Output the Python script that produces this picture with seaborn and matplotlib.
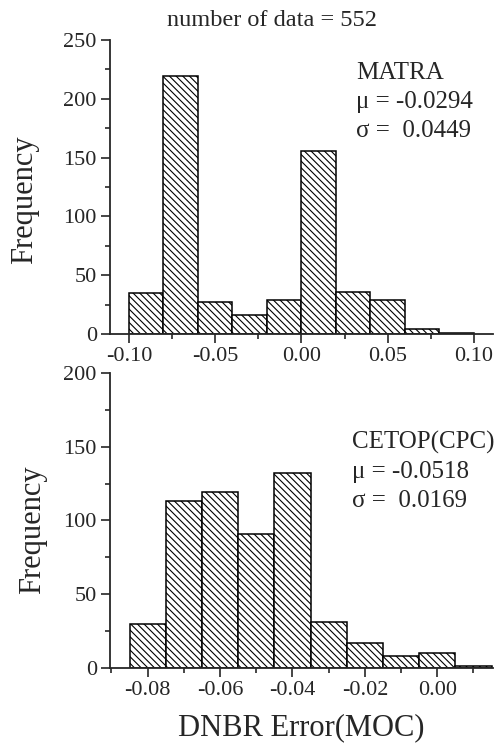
import numpy as np
import pandas as pd
import seaborn as sns
import matplotlib
matplotlib.use("Agg")
import matplotlib.pyplot as plt
from matplotlib.ticker import MultipleLocator, FormatStrFormatter

# histogram counts
matra_edges = [-0.10, -0.08, -0.06, -0.04, -0.02, 0.00, 0.02, 0.04, 0.06, 0.08, 0.10]
matra_counts = [35, 219, 27, 16, 29, 156, 36, 29, 4, 1]

cetop_edges = [-0.085, -0.075, -0.065, -0.055, -0.045, -0.035, -0.025, -0.015, -0.005, 0.005, 0.015]
cetop_counts = [30, 113, 119, 91, 132, 31, 17, 8, 10, 1]

matra_text = "MATRA\nμ = -0.0294\nσ =  0.0449"
cetop_text = "CETOP(CPC)\nμ = -0.0518\nσ =  0.0169"

sns.set_style("ticks")
plt.rcParams["font.family"] = ["Liberation Serif", "DejaVu Serif"]
plt.rcParams["hatch.linewidth"] = 0.8
plt.rcParams["axes.linewidth"] = 1.3


def to_frame(edges, counts):
    e = np.array(edges)
    return pd.DataFrame({"x": (e[:-1] + e[1:]) / 2, "n": counts})


fig = plt.figure(figsize=(4.98, 7.45), dpi=100)
ax1 = fig.add_axes([0.2209, 0.5517, 0.769, 0.3946])
ax2 = fig.add_axes([0.2209, 0.1034, 0.769, 0.396])

panels = [
    (ax1, matra_edges, matra_counts, (-0.111, 0.111), 250, 0.05, 50, "%.2f", matra_text, (0.642, 0.925)),
    (ax2, cetop_edges, cetop_counts, (-0.0904, 0.0154), 200, 0.02, 50, "%.2f", cetop_text, (0.631, 0.805)),
]

for ax, edges, counts, xlim, ytop, xstep, ystep, fmt, label, pos in panels:
    df = to_frame(edges, counts)
    sns.histplot(data=df, x="x", weights="n", bins=edges, ax=ax,
                 color="white", edgecolor="black", linewidth=1.1, alpha=1)
    for p in ax.patches:
        p.set_hatch("\\\\\\\\\\")
    ax.set_xlim(*xlim)
    ax.set_ylim(0, ytop)
    sns.despine(ax=ax)
    ax.xaxis.set_major_locator(MultipleLocator(xstep))
    ax.xaxis.set_minor_locator(MultipleLocator(xstep / 2))
    ax.yaxis.set_major_locator(MultipleLocator(ystep))
    ax.yaxis.set_minor_locator(MultipleLocator(ystep / 2))
    ax.xaxis.set_major_formatter(FormatStrFormatter(fmt))
    ax.tick_params(which="major", length=6.5, width=1.2, labelsize=16, pad=3)
    ax.tick_params(which="minor", length=3.5, width=1.2)
    ax.set_ylabel("Frequency", fontsize=22)
    ax.set_xlabel("")
    ax.text(pos[0], pos[1], label, transform=ax.transAxes, ha="left", va="top",
            fontsize=18, linespacing=1.42)

ax1.yaxis.set_label_coords(-0.185, 0.456)
ax2.yaxis.set_label_coords(-0.165, 0.468)
ax2.set_xlabel("DNBR Error(MOC)", fontsize=22)
ax2.xaxis.set_label_coords(0.5, -0.155)

fig.text(272 / 498, 1 - 20 / 745, "number of data = 552", ha="center", va="center", fontsize=17.5)

fig.savefig("out.png", dpi=100)
